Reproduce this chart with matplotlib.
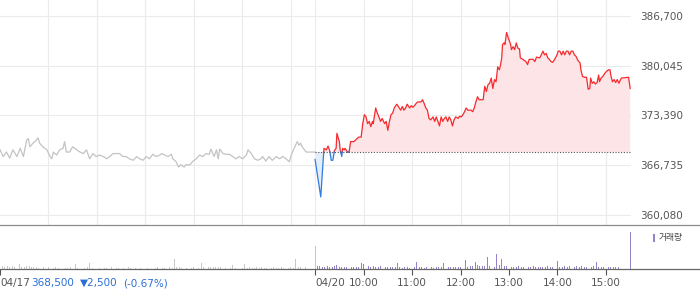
import numpy as np
import matplotlib
matplotlib.use("Agg")
import matplotlib.pyplot as plt
from matplotlib.lines import Line2D
from matplotlib.patches import Rectangle

# ---------------- data ----------------
prev_close = 368500
y_ticks = [360080, 366735, 373390, 380045, 386700]
date_labels = ["04/17", "04/20"]
hour_labels = ["10:00", "11:00", "12:00", "13:00", "14:00", "15:00"]
summary_price = "368,500"
summary_change = "▼2,500"
summary_pct = "(-0.67%)"
legend_label = "거래량"

day1_times = ["09:00", "09:04", "09:08", "09:12", "09:16", "09:21", "09:25", "09:29", "09:33", "09:35",
              "09:37", "09:41", "09:45", "09:47", "09:49", "09:53", "09:58", "10:02", "10:04", "10:06",
              "10:10", "10:14", "10:18", "10:20", "10:22", "10:26", "10:30", "10:35", "10:39", "10:43",
              "10:47", "10:51", "10:55", "10:59", "11:03", "11:08", "11:12", "11:16", "11:20", "11:28",
              "11:32", "11:36", "11:40", "11:45", "11:49", "11:53", "11:57", "12:01", "12:05", "12:09",
              "12:13", "12:18", "12:20", "12:24", "12:28", "12:32", "12:34", "12:38", "12:41", "12:44",
              "12:48", "12:50", "12:55", "12:59", "13:03", "13:07", "13:11", "13:15", "13:19", "13:21",
              "13:25", "13:28", "13:30", "13:32", "13:36", "13:40", "13:44", "13:48", "13:52", "13:56",
              "14:00", "14:05", "14:07", "14:11", "14:15", "14:19", "14:23", "14:25", "14:29", "14:33",
              "14:37", "14:42", "14:46", "14:50", "14:54", "14:58", "15:00", "15:02", "15:04", "15:08",
              "15:10", "15:12", "15:14", "15:19", "15:30"]
day1_prices = [368800, 367900, 368500, 367700, 368800, 367900, 369000, 367900, 370100, 370300,
               369200, 369700, 370100, 370400, 369700, 369200, 368800, 367900, 367600, 368500,
               368100, 368800, 369000, 369900, 368500, 368500, 369200, 368800, 368500, 368300,
               368800, 367600, 368300, 367900, 368100, 367900, 367600, 367900, 368300, 368300,
               367900, 367900, 367600, 367400, 367900, 367600, 367400, 367900, 367600, 368200,
               367900, 368100, 368300, 368100, 367900, 368200, 367600, 367200, 366500, 366800,
               366500, 366800, 366800, 367300, 367600, 368100, 367900, 368300, 368200, 368900,
               367900, 368800, 367600, 368900, 368300, 368200, 368200, 367900, 367600, 367900,
               367600, 368100, 368800, 368300, 367600, 367400, 367600, 367900, 367300, 367900,
               367400, 367900, 367600, 367900, 367600, 367200, 367900, 368500, 369000, 369900,
               369400, 369700, 369200, 368500, 368500]

day2_times = ["09:00", "09:07", "09:11", "09:14", "09:16", "09:18", "09:20", "09:22", "09:24", "09:26",
              "09:27", "09:30", "09:31", "09:33", "09:34", "09:36", "09:37", "09:40", "09:42", "09:44",
              "09:48", "09:50", "09:54", "09:57", "09:59", "10:01", "10:03", "10:05", "10:07", "10:09",
              "10:11", "10:12", "10:15", "10:17", "10:19", "10:21", "10:23", "10:26", "10:28", "10:30",
              "10:32", "10:34", "10:36", "10:38", "10:41", "10:43", "10:46", "10:48", "10:50", "10:52",
              "10:54", "10:57", "10:59", "11:01", "11:03", "11:05", "11:07", "11:11", "11:13", "11:15",
              "11:17", "11:19", "11:21", "11:23", "11:26", "11:28", "11:30", "11:32", "11:34", "11:36",
              "11:38", "11:40", "11:42", "11:44", "11:46", "11:48", "11:50", "11:52", "11:54", "11:57",
              "11:59", "12:01", "12:03", "12:05", "12:07", "12:09", "12:13", "12:15", "12:17", "12:19",
              "12:21", "12:23", "12:28", "12:30", "12:32", "12:34", "12:36", "12:38", "12:40", "12:42",
              "12:44", "12:46", "12:48", "12:49", "12:51", "12:52", "12:54", "12:55", "12:57", "12:59",
              "13:02", "13:03", "13:05", "13:07", "13:09", "13:11", "13:13", "13:14", "13:17", "13:21",
              "13:23", "13:25", "13:30", "13:32", "13:34", "13:38", "13:40", "13:42", "13:44", "13:46",
              "13:48", "13:50", "13:52", "13:54", "13:56", "13:59", "14:01", "14:03", "14:05", "14:07",
              "14:09", "14:11", "14:13", "14:15", "14:17", "14:19", "14:21", "14:23", "14:25", "14:28",
              "14:29", "14:31", "14:34", "14:36", "14:38", "14:40", "14:41", "14:43", "14:45", "14:47",
              "14:49", "14:51", "14:52", "14:54", "14:56", "14:59", "15:01", "15:03", "15:05", "15:06",
              "15:08", "15:10", "15:12", "15:14", "15:16", "15:19", "15:28", "15:30"]
day2_prices = [367500, 362500, 369000, 368800, 369300, 368700, 367400, 367400, 368700, 369000,
               371000, 369900, 368800, 367900, 369000, 368800, 369000, 368500, 368500, 369900,
               369900, 370100, 370500, 370500, 372300, 373500, 373200, 372300, 372600, 371900,
               372600, 372300, 374400, 373700, 373200, 372600, 373000, 372300, 372600, 371400,
               372600, 373500, 373700, 374400, 374900, 374600, 374100, 374600, 374100, 374400,
               374900, 374400, 374700, 374500, 374700, 375000, 375200, 375200, 375500, 375000,
               374400, 374100, 373000, 372800, 373200, 372600, 373200, 372600, 372000, 373200,
               372600, 373000, 373200, 372600, 373200, 372800, 372000, 372800, 373200, 373000,
               373300, 373200, 373500, 373900, 374400, 374100, 374100, 373900, 374400, 375200,
               375900, 375500, 375500, 377300, 376600, 377500, 377700, 378400, 377000, 378200,
               377900, 379900, 379500, 379900, 381100, 382900, 383100, 382900, 384500, 383800,
               382900, 382200, 382600, 382200, 383100, 382400, 382300, 381100, 380900, 380600,
               380200, 380900, 380900, 380600, 381200, 381100, 381500, 382000, 381500, 381700,
               381100, 380900, 380600, 380500, 380800, 381400, 382000, 382000, 381500, 382000,
               381500, 382000, 382000, 381500, 382000, 382000, 381500, 381300, 380800, 380400,
               379500, 378600, 378500, 378500, 376900, 377000, 378400, 377700, 377900, 377600,
               377800, 378800, 377900, 378400, 378600, 379100, 379300, 379500, 379500, 378800,
               377900, 378200, 377800, 378200, 377700, 378400, 378500, 377000]

vol_step_min = 3  # one volume bar per 3 minutes, starting 09:00
day1_volume = [6, 8, 5, 7, 6, 8, 5, 6, 14, 6, 5, 8, 8, 6, 5,
               4, 3, 0, 4, 3, 4, 0, 3, 4, 3, 0, 4, 3, 3, 4, 0,
               13, 3, 4, 0, 3, 4, 15,
               3, 0, 4, 3, 0, 3, 3, 0, 4, 0, 3, 3, 0, 3, 0, 4, 3, 0, 3, 0, 3, 4, 0, 3, 0, 0, 3, 4, 0, 3, 3, 0, 4, 3,
               26, 5, 5, 3, 0, 3, 0, 3, 4, 0, 3,
               15, 5, 6, 5, 4, 6, 5, 5, 4, 6, 3, 0, 3,
               10, 3, 0, 4, 3,
               13, 3, 4, 3, 3, 4, 3, 4, 3, 3, 4, 3, 4, 3, 3, 4, 3, 4, 3, 4, 3,
               26, 5, 6, 5, 4, 0, 0, 0]
day2_volume = [6, 8, 7, 5, 6, 8, 6, 5, 7, 10,
               5, 6, 4, 5, 6, 5, 4, 6, 5, 15, 13,
               6, 8, 5, 7, 6, 5, 8, 6, 5, 4, 6, 5, 4, 15,
               4, 3, 4, 5, 3, 4, 4, 18,
               4, 5, 3, 4, 5, 4, 3, 5, 4, 4, 15,
               5, 4, 6, 5, 4, 5, 6, 5, 24,
               6, 8, 7, 18, 10, 8, 7, 8, 30, 8, 7, 6, 39, 10, 26, 8, 7, 6,
               5, 6, 5, 7, 6, 5, 4, 6, 5, 8, 6, 5, 4, 6, 5, 7, 6, 5, 6, 22,
               6, 5, 7, 6, 8, 6, 5, 7, 6, 8, 6, 5, 18, 6, 7, 18,
               6, 5, 6, 7, 5, 6, 5, 6, 5, 0, 0, 0, 0]
day1_close_volume = 60
day2_close_volume = 95

# ---------------- helpers ----------------
def to_pos(t, day):
    h, m = map(int, t.split(":"))
    return day * 390 + (h - 9) * 60 + m


def split_at_base(x, p, base):
    xs, ps = [x[0]], [p[0]]
    for i in range(1, len(x)):
        a, b = p[i - 1] - base, p[i] - base
        if a * b < 0:
            xs.append(x[i - 1] + (x[i] - x[i - 1]) * a / (a - b))
            ps.append(base)
        xs.append(x[i])
        ps.append(p[i])
    return np.array(xs, float), np.array(ps, float)


W, H = 700, 289
fig = plt.figure(figsize=(W / 100, H / 100), dpi=100)
plt.rcParams['font.family'] = ['DejaVu Sans']

text_color = '#555555'
grid_color = '#ebebeb'
red = '#f42a2e'
blue = '#2f7be0'
gray_line = '#c3c3c7'
purple = '#9582cb'
gray_bar = '#c8c8c8'

plot_w = 631
ax = fig.add_axes([0, (H - 225) / H, plot_w / W, 225 / H])
axv = fig.add_axes([0, (H - 269) / H, plot_w / W, 44 / H])

xmax = 781
# ---------- price panel ----------
x1 = np.array([to_pos(t, 0) for t in day1_times])
p1 = np.array(day1_prices, float)
ax.plot(x1, p1, color=gray_line, lw=0.9, zorder=3)

x2 = np.array([to_pos(t, 1) for t in day2_times])
p2 = np.array(day2_prices, float)
xs, ps = split_at_base(x2, p2, prev_close)
ax.fill_between(xs, ps, prev_close, where=ps >= prev_close, color='#fde5e7', lw=0, zorder=1)
ax.fill_between(xs, ps, prev_close, where=ps <= prev_close, color='#e4eefa', lw=0, zorder=1)
ax.plot(xs, np.where(ps >= prev_close, ps, np.nan), color=red, lw=0.9, zorder=4)
ax.plot(xs, np.where(ps <= prev_close, ps, np.nan), color=blue, lw=0.9, zorder=4)
ax.plot([390, 780], [prev_close, prev_close], color='#555555', lw=0.8,
        ls=(0, (1.0, 1.5)), zorder=5)

grid_x = [60, 120, 180, 240, 300, 360, 390, 450, 510, 570, 630, 690, 750]
ax.set_xticks(grid_x)
ax.set_xticklabels([])
ax.set_yticks(y_ticks)
ax.set_yticklabels([f"{v:,}" for v in y_ticks])
ax.yaxis.tick_right()
ax.tick_params(axis='y', length=0, pad=6.5, labelsize=7.5, labelcolor=text_color)
ax.tick_params(axis='x', length=0)
ax.grid(True, color=grid_color, lw=0.8, zorder=0)
ax.set_axisbelow(True)
ax.set_xlim(0, xmax)
ax.set_ylim(358742, 388840)
for s in ax.spines.values():
    s.set_visible(False)

# ---------- volume panel ----------
vx1 = [i * vol_step_min for i in range(len(day1_volume))] + [390]
vv1 = day1_volume + [day1_close_volume]
vx2 = [390 + i * vol_step_min for i in range(len(day2_volume))] + [780]
vv2 = day2_volume + [day2_close_volume]
axv.bar(vx2, vv2, width=1.1, color=purple, lw=0, align='center')
axv.bar(vx1, vv1, width=1.1, color=gray_bar, lw=0, align='center')
axv.set_xlim(0, xmax)
axv.set_ylim(0, 114)
axv.set_yticks([])
tick_pos = [0, 390, 450, 510, 570, 630, 690, 750]
axv.set_xticks(tick_pos)
axv.set_xticklabels(date_labels + hour_labels)
for i, lab in enumerate(axv.get_xticklabels()):
    if i < 2:
        lab.set_ha('left')
axv.tick_params(axis='x', length=4, width=0.8, color='#555555', pad=2.5,
                labelsize=7.5, labelcolor=text_color)
for s in axv.spines.values():
    s.set_visible(False)

# full-width separator lines
fig.add_artist(Line2D([0, 1], [(H - 225) / H] * 2, color='#8c8c8c', lw=0.9))
fig.add_artist(Line2D([0, 1], [(H - 269) / H] * 2, color='#666666', lw=0.9))

# summary text
ty = 1 - 283 / H
fig.text(31 / W, ty, summary_price, color='#2b6fd6', fontsize=7.5, va='center', ha='left')
fig.text(80 / W, ty, summary_change, color='#2b6fd6', fontsize=7.5, va='center', ha='left')
fig.text(123 / W, ty, summary_pct, color='#2b6fd6', fontsize=7.5, va='center', ha='left')

# legend
fig.add_artist(Rectangle((652.5 / W, 1 - 241.5 / H), 2.5 / W, 7.5 / H,
                         transform=fig.transFigure, color=purple, lw=0))
fig.text(659 / W, 1 - 237.5 / H, legend_label, fontsize=6.3, color='#444444',
         va='center', ha='left', family=['Noto Sans CJK KR', 'DejaVu Sans'])

fig.savefig("out.png", dpi=100)
